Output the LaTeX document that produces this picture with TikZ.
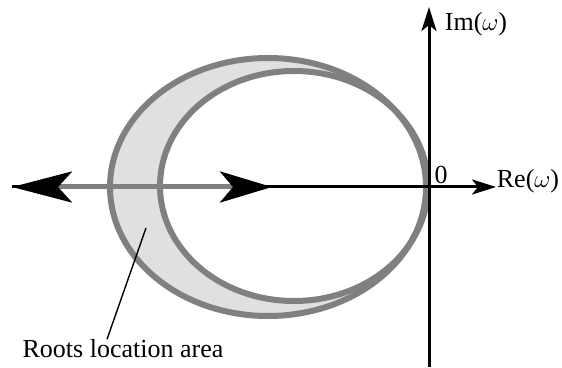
\documentclass[tikz,border=0pt]{standalone}
\usepackage{fontspec}
\setmainfont{Liberation Serif}
\usepackage{tikz}
\usetikzlibrary{arrows.meta}

\begin{document}
\begin{tikzpicture}[x=1pt, y=1pt, font=\fontsize{26}{30}\selectfont,
  ring/.style={draw=black!50, line width=6pt},
  area/.style={fill=black!12, even odd rule},
  axis/.style={line width=3pt, -{Stealth[length=24pt, width=15pt, inset=6pt]}},
  span/.style={draw=black!50, line width=5pt,
    {Stealth[length=60pt, width=31pt, inset=14pt, color=black]}-{Stealth[length=52pt, width=31pt, inset=13pt, color=black]}},
  lead/.style={line width=1.4pt}]
\useasboundingbox (0,0) rectangle (562,367);

% axes end points
\coordinate (xl) at (12,180);
\coordinate (xr) at (496,180);
\coordinate (yb) at (429,0);
\coordinate (yt) at (429,360);
\coordinate (sl) at (12,180);
\coordinate (sr) at (272,180);

% crescent between the two ellipses
\path[area] (268,180) ellipse [x radius=158, y radius=129]
            (294,181) ellipse [x radius=134, y radius=115];
\draw[ring] (268,180) ellipse [x radius=158, y radius=129];
\draw[ring] (294,181) ellipse [x radius=134, y radius=115];

\draw[axis] (xl) -- (xr);
\draw[span] (sl) -- (sr);
\draw[axis] (yb) -- (yt);

\node (im) at (476,343) {Im($\omega$)};
\node (re) at (528,186) {Re($\omega$)};
\node (zero) at (441,192) {0};

\node (roots) at (123,18) {Roots location area};
\coordinate (pt) at (146,139);
\draw[lead] (roots.north) ++(-16,-3) -- (pt);
\end{tikzpicture}
\end{document}
